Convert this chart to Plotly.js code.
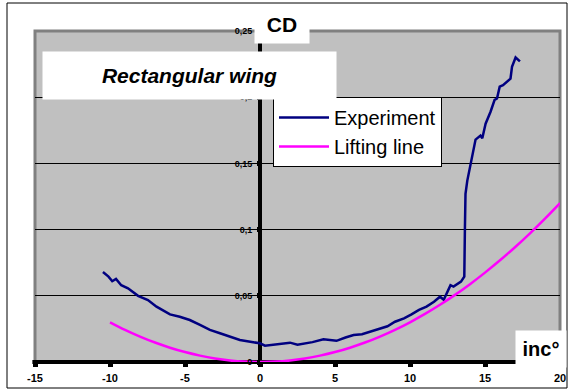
<!DOCTYPE html>
<html>
<head>
<meta charset="utf-8">
<script src="https://cdn.plot.ly/plotly-3.0.1.min.js"></script>
<style>html,body{margin:0;padding:0;background:#fff;}#chart{width:570px;height:392px;}</style>
</head>
<body>
<div id="chart"></div>
<script>
// Experiment (incidence in degrees, drag coefficient)
const expInc = [-10.47,-10.1,-9.85,-9.6,-9.25,-8.8,-8.13,-7.47,-6.9,-6.0,-5.35,-4.68,-4.0,-3.34,-2.67,-1.78,-1.34,-0.45,0,0.33,0.67,1.34,2.0,2.5,2.9,3.5,4.23,5.1,5.7,6.24,6.8,7.35,7.9,8.5,9.0,9.6,10.1,10.6,11.1,11.6,12.0,12.25,12.7,12.9,13.4,13.62,13.66,13.7,13.82,14.15,14.37,14.7,14.82,15.04,15.37,15.64,15.8,15.98,16.2,16.7,16.8,17.04,17.33];
const expCD  = [0.068,0.0645,0.061,0.0627,0.058,0.0557,0.050,0.0468,0.0418,0.036,0.0342,0.0317,0.028,0.0242,0.0217,0.0179,0.0166,0.0149,0.0141,0.0123,0.0128,0.0141,0.0146,0.0130,0.0136,0.0150,0.0171,0.0160,0.0185,0.0204,0.0210,0.0229,0.0247,0.0270,0.0304,0.0330,0.0360,0.0393,0.0418,0.0455,0.0493,0.0470,0.0580,0.0570,0.0607,0.0645,0.100,0.127,0.137,0.156,0.168,0.171,0.169,0.180,0.189,0.198,0.199,0.208,0.209,0.214,0.223,0.230,0.227];
// Lifting line theory
const llInc = [-10,-9,-8,-7,-6,-5,-4,-3,-2,-1,0,1,2,3,4,5,6,7,8,9,10,11,12,13,14,15,16,17,18,19,20];
const llCD  = [0.030,0.0243,0.0192,0.0147,0.0108,0.0075,0.0048,0.0027,0.0012,0.0003,0,0.0003,0.0012,0.0027,0.0048,0.0075,0.0108,0.0147,0.0192,0.0243,0.030,0.0363,0.0432,0.0507,0.0588,0.0675,0.0768,0.0867,0.0972,0.1083,0.120];
const seriesNames = ["Experiment","Lifting line"];
const xTickVals = [-15,-10,-5,0,5,10,15,20];
const xTickText = ["-15","-10","-5","0","5","10","15","20"];
const yTickVals = [0,0.05,0.1,0.15,0.2,0.25];
const yTickText = ["0","0,05","0,1","0,15","0,2","0,25"];
const chartTitle = "Rectangular wing";
const xTitle = "inc°";
const yTitle = "CD";

const L = 35, R = 10, T = 31, B = 30, W = 570, H = 392;
const pw = W - L - R, ph = H - T - B;
const px = v => (v - L) / pw;          // pixel -> paper x
const py = v => (H - B - v) / ph;      // pixel -> paper y
const FAM = 'Liberation Sans, Arial, sans-serif';

const traces = [
  {x: expInc, y: expCD, name: seriesNames[0], mode: 'lines', type: 'scatter',
   line: {color: '#000080', width: 2.5}},
  {x: llInc, y: llCD, name: seriesNames[1], mode: 'lines', type: 'scatter',
   line: {color: '#FF00FF', width: 2.5, shape: 'spline'}}
];

const layout = {
  width: W, height: H,
  margin: {l: L, r: R, t: T, b: B, pad: 0},
  paper_bgcolor: '#ffffff',
  plot_bgcolor: '#C0C0C0',
  showlegend: true,
  xaxis: {
    range: [-15, 20], tickmode: 'array', tickvals: xTickVals,
    ticktext: xTickText.map(t => '<b>' + t + '</b>'),
    showgrid: false, zeroline: false,
    showline: false,
    ticks: 'outside', ticklen: 4, tickwidth: 5, tickcolor: '#000',
    ticklabelstandoff: 2,
    tickfont: {family: FAM, size: 11, color: '#000', weight: 700}, fixedrange: true
  },
  yaxis: {
    range: [0, 0.25], tickmode: 'array', tickvals: yTickVals,
    ticktext: yTickText.map(t => '<b>' + t + '</b>'),
    anchor: 'free', position: px(260),
    showgrid: true, gridcolor: '#000', gridwidth: 1,
    zeroline: false, showline: false,
    ticks: 'outside', ticklen: 3, tickwidth: 5, tickcolor: '#000',
    ticklabelstandoff: 3,
    tickfont: {family: FAM, size: 9, color: '#000', weight: 700},
    fixedrange: true
  },
  legend: {
    x: px(273), y: py(97), xanchor: 'left', yanchor: 'top',
    bgcolor: '#fff', bordercolor: '#000', borderwidth: 1,
    font: {family: FAM, size: 20, color: '#000'},
    itemwidth: 50, tracegroupgap: 0
  },
  shapes: [
    {type: 'rect', xref: 'paper', yref: 'paper', x0: 0, x1: 1, y0: 0, y1: 1,
     line: {color: '#808080', width: 3}, layer: 'below'},
    // axis lines crossing at the origin
    {type: 'line', xref: 'paper', yref: 'paper', x0: px(260), x1: px(260), y0: 0, y1: 1,
     line: {color: '#000', width: 4}, layer: 'below'},
    {type: 'line', xref: 'paper', yref: 'paper', x0: -0.005, x1: 1, y0: 0, y1: 0,
     line: {color: '#000', width: 4}, layer: 'below'},
    {type: 'rect', xref: 'paper', yref: 'paper', x0: px(7), x1: px(567), y0: py(388), y1: py(3),
     line: {color: '#000', width: 1}, fillcolor: 'rgba(0,0,0,0)', layer: 'above'}
  ],
  annotations: [
    {xref: 'paper', yref: 'paper', x: px(189.5), y: py(75.5), xanchor: 'center', yanchor: 'middle',
     text: '<b><i>' + chartTitle + '</i></b>', showarrow: false,
     font: {family: FAM, size: 21, color: '#000'},
     bgcolor: '#fff', width: 293, height: 47, borderpad: 0},
    {xref: 'paper', yref: 'paper', x: px(282), y: py(24), xanchor: 'center', yanchor: 'middle',
     text: '<b>' + yTitle + '</b>', showarrow: false,
     font: {family: FAM, size: 21, color: '#000'},
     bgcolor: '#fff', width: 54, height: 38, borderpad: 0},
    {xref: 'paper', yref: 'paper', x: px(541), y: py(349), xanchor: 'center', yanchor: 'middle',
     text: '<b>' + xTitle + '</b>', showarrow: false,
     font: {family: FAM, size: 20, color: '#000'},
     bgcolor: '#fff', width: 50, height: 36, borderpad: 0}
  ]
};

Plotly.newPlot('chart', traces, layout, {displayModeBar: false, staticPlot: true});
</script>
</body>
</html>
